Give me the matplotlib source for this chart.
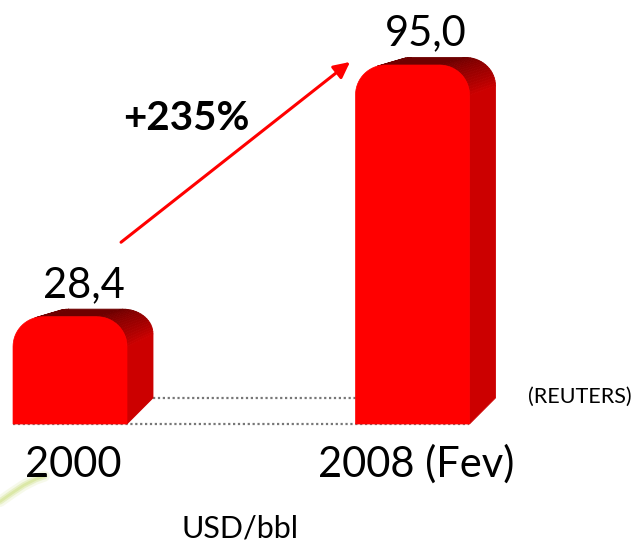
import numpy as np
import matplotlib
matplotlib.use('Agg')
import matplotlib.pyplot as plt
from matplotlib.patches import Polygon

# data
categories = ['2000', '2008 (Fev)']
values = [28.4, 95.0]
value_labels = ['28,4', '95,0']
change_label = '+235%'
unit_label = 'USD/bbl'
source_label = '(REUTERS)'

plt.rcParams['font.family'] = ['Lato', 'DejaVu Sans']

fig = plt.figure(figsize=(6.34, 5.44), dpi=100)
ax = fig.add_axes([0, 0, 1, 1])
ax.set_xlim(-0.2044, 1.6467)
ax.set_ylim(-31.75, 112.2)
ax.axis('off')

# pixels per data unit (used only to shade the faces by their direction)
sx = fig.bbox.width / (ax.get_xlim()[1] - ax.get_xlim()[0])
sy = fig.bbox.height / (ax.get_ylim()[1] - ax.get_ylim()[0])

hw = 0.1664          # half width of the front face
rx, ry = 0.0876, 7.9  # rounded corner
ddx = 0.0759         # depth in x
dyb, dyt = 6.9, 2.0  # depth in y at bottom / top

side_col = np.array([0.80, 0.0, 0.0])
top_col = np.array([0.43, 0.0, 0.0])


def outline(xc, top):
    xl, xr = xc - hw, xc + hw
    pts = [(xl, 0.0)]
    for a in np.linspace(np.pi, np.pi / 2, 18):
        pts.append((xl + rx + rx * np.cos(a), top - ry + ry * np.sin(a)))
    for a in np.linspace(np.pi / 2, 0, 18):
        pts.append((xr - rx + rx * np.cos(a), top - ry + ry * np.sin(a)))
    pts.append((xr, 0.0))
    return np.array(pts)


def back(p, top):
    dy = dyb + (dyt - dyb) * p[1] / top
    return np.array([p[0] + ddx, p[1] + dy])


# dotted base lines
ax.plot([0 - hw, 1 + hw], [0, 0], color='#777777', lw=1.6,
        ls=(0, (1, 1.2)), zorder=1)
ax.plot([0 + hw + ddx, 1 - hw], [dyb, dyb], color='#777777', lw=1.6,
        ls=(0, (1, 1.2)), zorder=1)

for i, v in enumerate(values):
    pts = outline(i, v)
    for j in range(len(pts) - 1):
        p1, p2 = pts[j], pts[j + 1]
        q1, q2 = back(p1, v), back(p2, v)
        ex, ey = (p2[0] - p1[0]) * sx, (p2[1] - p1[1]) * sy
        if ex == 0 and ey == 0:
            continue
        nx, ny = -ey, ex
        dmx = ddx * sx
        dmy = (q1[1] - p1[1] + q2[1] - p2[1]) / 2 * sy
        if nx * dmx + ny * dmy <= 0:
            continue
        ang = np.degrees(np.arctan2(ny, nx))
        t = np.clip(ang / 90.0, 0, 1) ** 0.8
        c = side_col * (1 - t) + top_col * t
        ax.add_patch(Polygon([p1, p2, q2, q1], closed=True, fc=c, ec=c,
                             lw=0.6, zorder=2))
    ax.add_patch(Polygon(pts, closed=True, fc='#ff0000', ec='#ff0000',
                         lw=0.5, zorder=3))
    ax.text(i + 0.04, v + 5.25, value_labels[i], ha='center', va='baseline',
            fontsize=30, color='black')
    ax.text(i + 0.01, -14.0, categories[i], ha='center', va='baseline',
            fontsize=30, color='black')

# growth arrow
ax.annotate('', xy=(0.8175, values[1] + 0.8), xytext=(0.149, values[0] + 19.7),
            arrowprops=dict(arrowstyle='-|>', color='#ff0000', lw=2.2,
                            mutation_scale=24, shrinkA=0, shrinkB=0),
            zorder=4)
ax.text(0.34, 77.8, change_label, ha='center', va='baseline', fontsize=29,
        fontweight='bold', color='black')

ax.text(0.496, -29.9, unit_label, ha='center', va='baseline', fontsize=22,
        color='black')
ax.text(1.641, 5.5, source_label, ha='right', va='baseline', fontsize=15.5,
        color='black')

# faint green swoosh in the lower left corner
sw_x = np.array([-0.2044, -0.17, -0.135, -0.10, -0.075])
sw_y = np.array([-20.5, -18.3, -16.2, -14.6, -13.8])
for lw, al in [(8, 0.15), (4.5, 0.3), (2, 0.4)]:
    ax.plot(sw_x, sw_y, color='#c8dc78', lw=lw, alpha=al,
            solid_capstyle='round', zorder=0)

fig.savefig('out.png', dpi=100)
